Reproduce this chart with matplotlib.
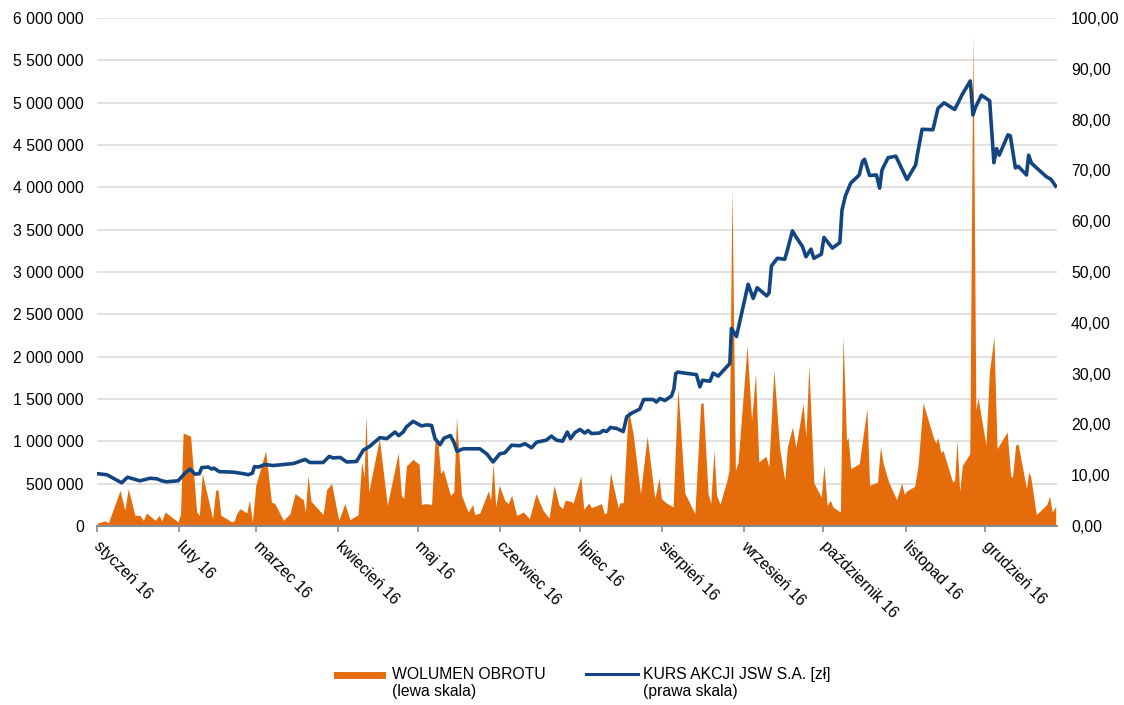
import numpy as np
import pandas as pd
import matplotlib
matplotlib.use('Agg')
import matplotlib.pyplot as plt
import matplotlib.transforms as mtransforms
from matplotlib.patches import Rectangle
from matplotlib.lines import Line2D

plt.rcParams['font.family'] = ['Liberation Sans', 'DejaVu Sans']

start = pd.Timestamp('2016-01-01')

# wolumen obrotu (szt.), dzien roku liczony od 1 stycznia
vol_days = [0.1, 3.0, 4.3, 8.7, 10.5, 11.8, 14.3, 16.2, 17.5, 18.7, 21.9, 23.5, 24.4, 25.7,
            30.6, 31.5, 32.5, 35.3, 37.6, 38.6, 39.7, 42.9, 43.6, 44.8, 45.7, 46.7, 48.9,
            50.8, 51.8, 52.7, 53.9, 56.5, 57.5, 58.6, 59.9, 63.6, 65.8, 67.1, 70.3, 72.8,
            74.7, 77.8, 78.6, 79.6, 80.7, 85.3, 86.6, 88.5, 91.2, 93.5, 95.4, 98.5, 99.8,
            100.8, 101.4, 102.5, 106.5, 109.5, 113.6, 114.8, 115.7, 116.7, 119.2, 121.5,
            122.4, 123.7, 126.2, 127.5, 128.7, 129.6, 130.6, 133.3, 134.6, 135.6, 137.5,
            140.0, 141.7, 142.5, 144.4, 147.6, 148.5, 149.4, 150.4, 151.7, 153.8, 155.1,
            156.4, 158.3, 160.8, 163.1, 165.6, 168.2, 170.5, 172.4, 174.3, 175.6, 176.6,
            178.4, 179.6, 182.5, 183.6, 185.5, 186.5, 190.3, 191.3, 192.2, 193.7, 196.6,
            197.2, 198.5, 200.4, 202.2, 205.0, 207.5, 210.4, 212.0, 212.9, 214.6, 217.3,
            219.1, 221.7, 225.5, 227.7, 228.6, 230.5, 231.5, 232.7, 233.7, 235.0, 237.6,
            238.4, 239.5, 240.8, 241.8, 245.2, 246.9, 248.4, 249.6, 252.3, 253.4, 255.3,
            257.5, 259.4, 260.4, 262.3, 263.6, 266.3, 267.4, 268.5, 270.4, 273.2, 274.2,
            275.4, 276.6, 277.6, 280.4, 281.4, 282.7, 283.3, 284.3, 287.5, 290.4, 291.4,
            294.4, 295.5, 296.5, 298.6, 301.6, 303.5, 304.5, 305.4, 308.4, 309.7, 311.6,
            315.6, 316.4, 317.2, 318.3, 319.1, 322.7, 323.5, 324.4, 325.4, 326.4, 329.2,
            330.4, 331.5, 332.3, 335.3, 336.6, 338.3, 339.5, 343.3, 344.6, 345.3, 346.5,
            347.4, 350.6, 351.4, 352.2, 354.3, 358.3, 359.3, 360.3, 361.6]
volume = [35, 60, 40, 420, 185, 440, 126, 126, 67, 154, 67, 126, 59, 165,
          47, 146, 1100, 1060, 165, 126, 620, 185, 87, 430, 420, 126, 87,
          47, 67, 146, 205, 154, 310, 47, 480, 886, 283, 264, 67, 146,
          382, 311, 165, 598, 295, 134, 430, 500, 67, 264, 75, 134, 756,
          579, 1307, 402, 1031, 244, 862, 362, 323, 709, 787, 728,
          252, 264, 256, 1012, 953, 618, 665, 362, 402, 1287, 362,
          165, 252, 134, 154, 413, 303, 744, 224, 480, 303, 264,
          362, 126, 165, 87, 382, 185, 94, 480, 244, 205, 303,
          295, 270, 590, 197, 272, 216, 264, 146, 154, 626, 213,
          272, 276, 1386, 1091, 382, 1059, 323, 567, 323, 276, 224,
          1634, 390, 146, 1445, 1457, 382, 264, 894, 362, 256, 539,
          657, 4000, 657, 756, 2130, 1248, 1799, 756, 823, 697, 1846,
          913, 539, 933, 1169, 925, 1445, 1051, 1898, 508, 343, 717,
          244, 303, 224, 165, 2240, 1012, 1043, 677, 736, 1386, 480,
          520, 933, 744, 520, 311, 508, 374, 413, 469, 717, 1453,
          1031, 980, 1043, 862, 894, 520, 539, 1012, 402, 717, 854,
          5830, 1366, 1516, 953, 1819, 2232, 913, 1110, 598, 571, 953,
          972, 441, 638, 579, 134, 256, 354, 165, 232]
volume = np.array(volume) * 1000

# kurs akcji JSW S.A. [zl]
price_days = [0.1, 3.7, 9.3, 11.5, 16.2, 20.0, 22.5, 24.4, 26.2, 30.6, 33.2, 35.1, 37.0,
              38.6, 39.5, 42.0, 43.3, 44.1, 46.1, 51.4, 55.2, 57.1, 58.6, 59.4, 60.9,
              63.3, 66.5, 74.1, 78.5, 80.3, 85.3, 87.6, 89.1, 91.7, 94.2, 97.9, 100.4,
              102.9, 106.7, 109.3, 112.4, 113.8, 115.5, 116.7, 119.2, 122.4, 124.3,
              126.2, 127.5, 129.4, 130.9, 133.3, 134.6, 135.8, 138.1, 144.4, 147.0,
              149.4, 151.9, 153.8, 156.4, 159.5, 161.4, 163.9, 165.8, 169.5, 171.4,
              173.3, 175.6, 177.4, 178.6, 180.3, 182.2, 184.0, 185.2, 186.5, 189.6,
              190.9, 192.2, 193.7, 196.0, 198.5, 199.8, 201.6, 204.7, 206.2, 209.8,
              211.0, 212.3, 214.2, 216.7, 217.6, 218.3, 219.1, 221.7, 226.1, 227.4,
              228.4, 231.2, 232.4, 234.3, 238.0, 238.7, 239.3, 241.2, 245.6, 247.5,
              249.0, 252.6, 253.5, 254.4, 256.6, 259.4, 260.4, 262.3, 263.8, 266.1,
              267.4, 269.3, 270.4, 273.2, 274.2, 275.1, 277.4, 280.2, 281.0, 282.3,
              284.3, 287.5, 288.7, 289.5, 291.4, 294.0, 295.2, 296.1, 298.4, 301.3,
              303.5, 305.5, 308.8, 309.4, 311.2, 315.3, 317.2, 319.5, 323.5, 324.5,
              326.4, 329.4, 330.4, 331.4, 333.6, 336.7, 338.3, 339.3, 340.3, 343.6,
              344.5, 346.4, 347.5, 350.6, 351.4, 352.5, 358.0, 359.9, 361.6]
price = [10.3, 10.1, 8.5, 9.6, 8.9, 9.4, 9.3, 8.9, 8.7, 8.9, 10.4, 11.2, 10.2,
         10.3, 11.5, 11.6, 11.2, 11.4, 10.7, 10.6, 10.3, 10.1, 10.4, 11.7, 11.6,
         12.1, 11.9, 12.3, 13.1, 12.5, 12.5, 13.7, 13.4, 13.5, 12.6, 12.7, 14.9,
         15.7, 17.4, 17.2, 18.5, 17.8, 18.5, 19.5, 20.6, 19.7, 19.9,
         19.8, 17.2, 16.0, 17.3, 17.8, 16.5, 14.7, 15.2, 15.2, 14.2,
         12.6, 14.2, 14.4, 15.9, 15.8, 16.2, 15.4, 16.5, 16.9, 17.7,
         16.9, 16.7, 18.5, 17.2, 18.4, 19.0, 18.3, 18.8, 18.2, 18.3,
         18.8, 18.6, 19.4, 19.2, 18.6, 21.5, 22.2, 23.0, 24.9, 24.9,
         24.4, 25.1, 24.7, 25.6, 27.0, 30.0, 30.3, 30.1, 29.8, 27.4,
         28.7, 28.5, 30.1, 29.5, 31.6, 32.0, 38.9, 37.3, 47.6, 44.8,
         46.9, 45.3, 45.9, 51.2, 52.7, 52.5, 54.3, 58.1, 56.8, 55.0,
         53.0, 54.5, 52.7, 53.5, 56.8, 56.2, 54.7, 55.8, 62.2, 65.0,
         67.5, 69.1, 71.7, 72.2, 69.0, 69.1, 66.5, 70.1, 72.5, 72.8,
         70.4, 68.2, 71.1, 73.0, 78.1, 78.0, 82.2, 83.3, 82.0, 83.0,
         85.0, 87.6, 80.9, 82.5, 84.8, 83.7, 71.5, 74.3, 73.0, 77.0,
         76.8, 70.5, 70.8, 69.1, 73.0, 71.4, 68.8, 68.2, 66.9]

month_labels = ['styczeń 16', 'luty 16', 'marzec 16', 'kwiecień 16', 'maj 16', 'czerwiec 16',
                'lipiec 16', 'sierpień 16', 'wrzesień 16', 'październik 16', 'listopad 16',
                'grudzień 16']

vol_dates = start + pd.to_timedelta(vol_days, unit='D')
price_dates = start + pd.to_timedelta(price_days, unit='D')
month_starts = pd.date_range('2016-01-01', periods=12, freq='MS')

orange = '#E46C0A'
blue = '#134680'

fig = plt.figure(figsize=(11.24, 7.05), dpi=100)
ax = fig.add_axes([97 / 1124, 1 - 526 / 705, 960 / 1124, 508 / 705])
ax2 = ax.twinx()

ax.fill_between(vol_dates, volume, 0, color=orange, lw=0)
ax2.plot(price_dates, price, color=blue, lw=2.6, solid_joinstyle='round')

ax.set_xlim(start, start + pd.Timedelta(days=362.1))
ax.set_ylim(0, 6000000)
ax2.set_ylim(0, 100)

ax.set_yticks(np.arange(0, 6000001, 500000))
ax.set_yticklabels(['{:,}'.format(v).replace(',', ' ') for v in range(0, 6000001, 500000)])
ax2.set_yticks(np.arange(0, 101, 10))
ax2.set_yticklabels(['{:.2f}'.format(v).replace('.', ',') for v in range(0, 101, 10)])

ax.set_axisbelow(True)
ax.yaxis.grid(True, color='#d9d9d9', lw=1.1)
ax.xaxis.grid(False)

for a in (ax, ax2):
    for s in a.spines.values():
        s.set_visible(False)
ax.spines['bottom'].set_visible(True)
ax.spines['bottom'].set_color('#8c8c8c')
ax.spines['bottom'].set_linewidth(1.4)
ax.spines['bottom'].set_zorder(5)

ax.tick_params(axis='y', length=0, pad=9.5, labelsize=11.3)
ax2.tick_params(axis='y', length=0, pad=10, labelsize=11.3)
ax.tick_params(axis='x', length=4, width=1.2, color='#8c8c8c', pad=5, labelsize=11.3)

ax.set_xticks(month_starts)
ax.set_xticklabels(month_labels, rotation=-45, ha='left', va='top', rotation_mode='anchor')
# przesuniecie etykiet miesiecy lekko w prawo
shift = mtransforms.ScaledTranslation(5 / 100, 0, fig.dpi_scale_trans)
for lbl in ax.get_xticklabels():
    lbl.set_transform(lbl.get_transform() + shift)

# legenda pod wykresem
fig.add_artist(Rectangle((334 / 1124, 1 - 679 / 705), 52 / 1124, 7 / 705,
                         transform=fig.transFigure, color=orange, lw=0))
fig.add_artist(Line2D([586 / 1124, 638 / 1124], [1 - 674 / 705, 1 - 674 / 705],
                      transform=fig.transFigure, color=blue, lw=2.2))
fig.text(392 / 1124, 1 - 667 / 705, 'WOLUMEN OBROTU\n(lewa skala)', fontsize=11.3,
         va='top', ha='left', linespacing=1.15)
fig.text(643 / 1124, 1 - 667 / 705, 'KURS AKCJI JSW S.A. [zł]\n(prawa skala)', fontsize=11.3,
         va='top', ha='left', linespacing=1.15)

fig.savefig('out.png', dpi=100)
